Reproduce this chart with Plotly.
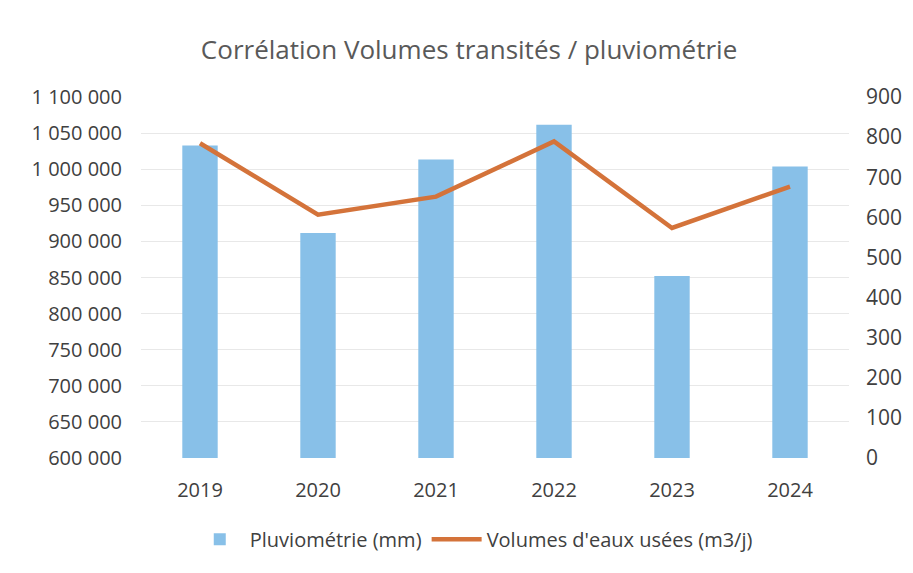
import plotly.graph_objects as go

years = ["2019", "2020", "2021", "2022", "2023", "2024"]
pluviometrie = [779, 561, 744, 831, 454, 727]
volumes = [1036000, 937000, 962000, 1038500, 918600, 976000]
left_ticks = [600000, 650000, 700000, 750000, 800000, 850000, 900000, 950000, 1000000, 1050000, 1100000]
right_ticks = [0, 100, 200, 300, 400, 500, 600, 700, 800, 900]

FONT = "Open Sans"
TXT = "#404040"
fig = go.Figure()
# invisible carrier trace so the base (left, gridded) axis exists beneath the bars
fig.add_trace(go.Scatter(
    x=years, y=volumes, mode="lines", line=dict(width=0, color="rgba(0,0,0,0)"),
    showlegend=False, hoverinfo="skip", yaxis="y",
))
fig.add_trace(go.Bar(
    x=years, y=pluviometrie, name="Pluviométrie (mm)", yaxis="y2",
    marker=dict(color="#88C0E8", line=dict(width=0)),
))
fig.add_trace(go.Scatter(
    x=years, y=volumes, name="Volumes d'eaux usées (m3/j)", mode="lines",
    line=dict(color="#D4733A", width=4.5), yaxis="y3",
))
fig.update_layout(
    width=913, height=573,
    paper_bgcolor="white", plot_bgcolor="white",
    margin=dict(l=133, r=72, t=89, b=123),
    separators=", ",
    font=dict(family=FONT, color=TXT, size=20),
    title=dict(text="Corrélation Volumes transités / pluviométrie", x=0.505, xanchor="center",
               y=0.927, yanchor="middle", font=dict(size=26, color="#595959", family=FONT)),
    bargap=0.7,
    showlegend=True,
    legend=dict(orientation="h", x=0.47, xanchor="center", y=-0.225, yanchor="middle",
                font=dict(size=20, color=TXT), itemwidth=50, traceorder="normal"),
    xaxis=dict(showgrid=False, showline=False, ticks="", tickfont=dict(size=20, color=TXT),
               ticklabelstandoff=18),
    yaxis=dict(range=[600000, 1100000], tickvals=left_ticks, tickformat=",d",
               showgrid=True, gridcolor="#E8E8E8", gridwidth=1, zeroline=False,
               showline=False, ticks="", tickfont=dict(size=20, color=TXT),
               ticklabelstandoff=18),
    yaxis2=dict(range=[0, 900], tickvals=right_ticks, overlaying="y", side="right",
                showgrid=False, zeroline=False, showline=False, ticks="",
                tickfont=dict(size=21, color=TXT), ticklabelstandoff=16),
    yaxis3=dict(range=[600000, 1100000], overlaying="y", side="left",
                showgrid=False, zeroline=False, showline=False, ticks="",
                showticklabels=False),
)
fig.write_html("out.html")
